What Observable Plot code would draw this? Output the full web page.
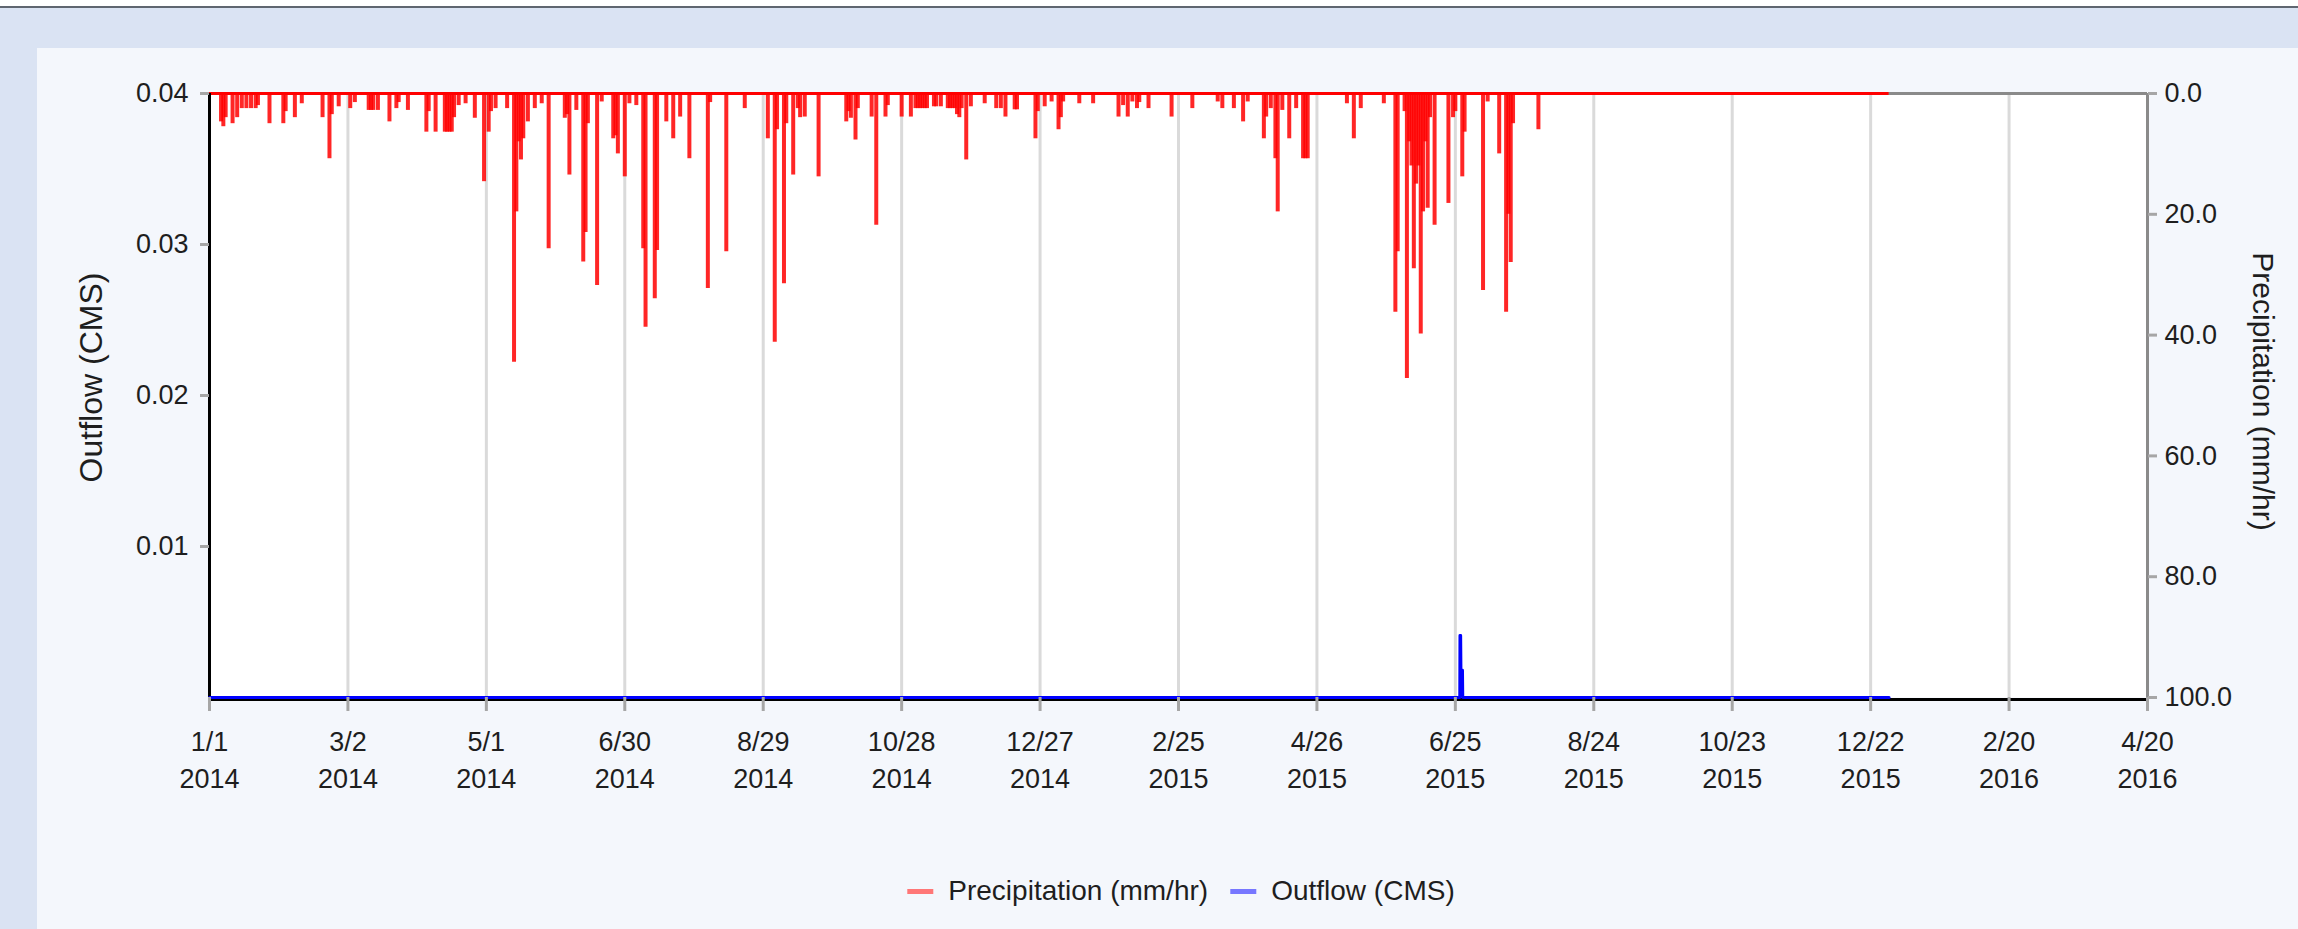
<!DOCTYPE html>
<html>
<head>
<meta charset="utf-8">
<script src="https://cdn.jsdelivr.net/npm/d3@7"></script>
<script src="https://cdn.jsdelivr.net/npm/@observablehq/plot@0.6"></script>
<style>
  html, body { margin:0; padding:0; }
  body { width:2298px; height:929px; overflow:hidden; background:#dae3f3; position:relative; font-family:"Liberation Sans", Arial, sans-serif; }
  #topstrip { position:absolute; left:0; top:0; width:2298px; height:6px; background:#ffffff; border-bottom:2px solid #5f6670; }
  #panel { position:absolute; left:37px; top:48px; width:2261px; height:881px; background:#f4f7fc; }
  #chart { position:absolute; left:0; top:0; }
  #legend { position:absolute; left:1144px; top:827px; transform:translateX(-50%); display:flex; align-items:center; font-size:28px; color:#1e1e1e; white-space:nowrap; }
  .item { display:flex; align-items:center; margin-right:22px; }
  .item:last-child { margin-right:0; }
  .sw { display:inline-block; width:26px; height:5px; margin-right:15px; }
</style>
</head>
<body>
<div id="topstrip"></div>
<div id="panel"><div id="chart"></div><div id="legend"></div></div>
<script>
// ---- data ----
const START = "2014-01-01";
// precipitation events: days since START and intensity (mm/hr)
const precipDay = [5,6,7,10,12,14,16,18,20,21,26,32,33,37,40,49,52,53,56,61,63,69,70,71,73,78,81,82,86,94,95,98,102,103,104,105,106,108,111,115,119,121,122,124,129,132,133,134,135,136,138,141,144,147,154,155,156,159,162,163,164,168,170,175,176,177,180,182,185,188,189,193,194,
  198,201,204,208,216,217,224,232,242,245,246,249,250,253,255,256,258,264,276,277,278,280,281,287,289,293,294,300,304,306,307,308,309,310,311,314,315,317,320,321,322,323,324,325,326,328,330,336,341,343,345,349,350,358,359,362,365,368,369,370,377,383,
  394,396,398,400,402,403,407,417,426,437,439,444,448,450,457,458,460,462,463,465,468,471,474,475,476,493,496,499,509,514,515,518,519,520,521,522,523,524,525,526,527,528,529,531,537,539,540,543,544,552,554,559,562,563,564,565,576];
const precipMM = [4.7,5.5,4,5,4,2.5,2.5,2.5,2.5,2,5,5,3,4,1.7,4,10.8,3.5,2.2,2.5,1.5,2.8,2.8,2.8,2.8,4.7,2.5,1.5,2.8,6.4,3,6.4,6.4,6.4,6.4,6.4,4,2,1.7,4.1,14.6,6.4,3,2.5,2.5,44.5,19.6,8,11,7.5,4.7,2.5,1.7,25.7,4.1,3.5,13.5,2.8,27.9,23,5,31.8,1.4,7.5,7,10,13.8,1.7,2,25.7,38.7,34,26,
  4.7,7.5,3.9,10.8,32.3,1.5,26.2,2.5,7.5,41.2,6,31.5,5,13.5,2.5,4,3.9,13.8,4.7,3,4.1,7.7,2.5,3.9,21.8,3.9,2,3.9,3.9,2.5,2.5,2.5,2.5,2.5,2.5,2.2,2.2,2.2,2.5,2.5,2.5,2.5,3.5,4,2.5,11,2.2,1.7,2.5,2.5,3.9,2.7,2.7,7.5,3,2.2,1.4,6,4,1.4,1.7,1.7,
  3.9,2,3.9,1.4,2.5,1.5,2.5,3.9,2.5,1.4,2.5,2.5,4.7,1.4,7.5,3.9,2.5,10.8,19.6,2.8,7.5,2.5,10.8,10.8,10.8,1.7,7.5,2.5,1.7,36.2,26.2,3,47.2,8,12,29,15,12,39.8,19.6,8,19,4,21.8,18.2,4,3,13.8,6.4,32.6,1.4,10,36.2,20,28,5,6];
const seriesEnd = "2015-12-30";
// outflow (CMS)
const outflowTime = ["2014-01-01T00:00Z","2015-06-26T22:00Z","2015-06-27T00:00Z","2015-06-27T07:00Z","2015-06-27T10:00Z","2015-06-28T02:00Z","2015-06-28T05:00Z","2015-12-30T00:00Z"];
const outflowCMS  = [0, 0, 0.0041, 0.0041, 0.0018, 0.0018, 0, 0];
// axes
const xTickDates = ["2014-01-01","2014-03-02","2014-05-01","2014-06-30","2014-08-29","2014-10-28","2014-12-27","2015-02-25","2015-04-26","2015-06-25","2015-08-24","2015-10-23","2015-12-22","2016-02-20","2016-04-20"];
const outflowTicks = [0.01, 0.02, 0.03, 0.04];
const precipTicks = [0, 20, 40, 60, 80, 100];
const OUTFLOW_MAX = 0.04, PRECIP_MAX = 100;
const seriesNames = ["Precipitation (mm/hr)", "Outflow (CMS)"];
const legendColors = ["#ff7777", "#7777ff"];

// ---- build ----
const parse = d3.isoParse;
const start = parse(START);
const end = parse(seriesEnd);
const precip = precipDay.map((d, i) => ({date: d3.utcDay.offset(start, d), p: precipMM[i]}));
const outflow = outflowTime.map((t, i) => ({date: parse(t), q: outflowCMS[i]}));
const xTicks = xTickDates.map(parse);
const x0 = xTicks[0], x1 = xTicks[xTicks.length - 1];
const toY = p => OUTFLOW_MAX * (1 - p / PRECIP_MAX);
const font = '"Liberation Sans", Arial, sans-serif';

const chart = Plot.plot({
  width: 2261, height: 800,
  marginTop: 45, marginBottom: 151, marginLeft: 172, marginRight: 151,
  style: {background: "transparent", fontFamily: font, fontSize: "27px", color: "#1e1e1e", overflow: "visible"},
  x: {type: "utc", domain: [x0, x1]},
  y: {domain: [0, OUTFLOW_MAX]},
  marks: [
    Plot.frame({fill: "white", stroke: "none"}),
    Plot.gridX({ticks: xTicks, stroke: "#dadada", strokeOpacity: 1, strokeWidth: 3}),
    Plot.ruleY([OUTFLOW_MAX], {stroke: "#8a8a8a", strokeWidth: 3}),
    Plot.ruleX([x1], {stroke: "#8a8a8a", strokeWidth: 3}),
    Plot.ruleX(precip, {x: "date", y1: () => OUTFLOW_MAX, y2: d => toY(d.p), stroke: "#ff0000", strokeOpacity: 0.85, strokeWidth: 4}),
    Plot.ruleY([OUTFLOW_MAX], {x1: () => x0, x2: () => end, stroke: "#ff0000", strokeWidth: 3}),
    Plot.ruleY([0], {stroke: "#000", strokeWidth: 3, dy: 2}),
    Plot.ruleX([x0], {stroke: "#000", strokeWidth: 3}),
    Plot.lineY(outflow, {x: "date", y: "q", stroke: "#0000ff", strokeWidth: 3}),
    Plot.axisX({ticks: xTicks, tickFormat: d3.utcFormat("%-m/%-d\n%Y"), tickSize: 14, tickPadding: 14,
      stroke: "#a6a6a6", strokeWidth: 3, fill: "#1e1e1e", fontSize: 27, lineHeight: 1.35, label: null}),
    Plot.axisY({anchor: "left", ticks: outflowTicks, tickFormat: d3.format(".2f"), tickSize: 9, tickPadding: 12,
      stroke: "#a6a6a6", strokeWidth: 3, fill: "#1e1e1e", fontSize: 27, label: null}),
    Plot.axisY({anchor: "right", ticks: precipTicks.map(toY),
      tickFormat: d => ((OUTFLOW_MAX - d) / OUTFLOW_MAX * PRECIP_MAX).toFixed(1), tickSize: 9, tickPadding: 8,
      stroke: "#a6a6a6", strokeWidth: 3, fill: "#1e1e1e", fontSize: 27, label: null}),
    Plot.text([seriesNames[1]], {frameAnchor: "left", textAnchor: "middle", dx: -118, dy: -18, rotate: -90, fontSize: 32, fill: "#1e1e1e"}),
    Plot.text([seriesNames[0]], {frameAnchor: "right", textAnchor: "middle", dx: 115, dy: -4, rotate: 90, fontSize: 30, fill: "#1e1e1e"})
  ]
});
document.getElementById("chart").appendChild(chart);

const legend = document.getElementById("legend");
seriesNames.forEach((name, i) => {
  const item = document.createElement("div");
  item.className = "item";
  const sw = document.createElement("span");
  sw.className = "sw";
  sw.style.background = legendColors[i];
  item.appendChild(sw);
  item.appendChild(document.createTextNode(name));
  legend.appendChild(item);
});
</script>
</body>
</html>
